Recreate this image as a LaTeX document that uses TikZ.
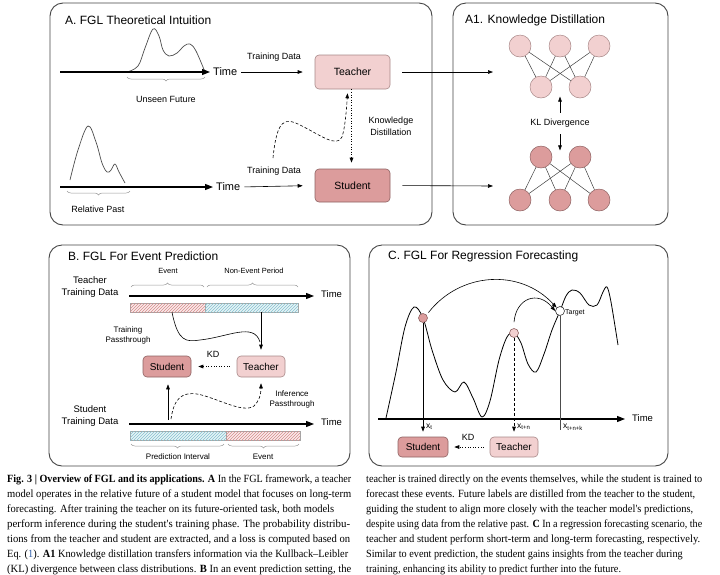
\documentclass[tikz,border=0pt]{standalone}
\usepackage{fontspec}
\usepackage{graphicx}
\setmainfont{Liberation Sans}
\newfontfamily\capfont{Liberation Serif}
\usetikzlibrary{arrows.meta,decorations.pathreplacing,patterns,calc}
\definecolor{tfill}{HTML}{F2D0D0}
\definecolor{sfill}{HTML}{DC9C9C}
\definecolor{tbord}{HTML}{A88888}
\definecolor{sbord}{HTML}{8E6262}
\definecolor{panelc}{HTML}{444444}
\definecolor{rbg}{HTML}{FBEAEA}
\definecolor{rln}{HTML}{D48C8C}
\definecolor{bbg}{HTML}{E6F4F7}
\definecolor{bln}{HTML}{86C2CF}
\definecolor{linkblue}{HTML}{2F5DA8}
\newcommand\capline[2]{\resizebox{#1pt}{\height}{#2}}
\begin{document}
\begin{tikzpicture}[x=1pt,y=-1pt,
  panel/.style={draw=panelc,line width=0.9pt,rounded corners=13pt},
  ttl/.style={anchor=west,font=\fontsize{12}{14}\selectfont,inner sep=0pt},
  lbl/.style={font=\fontsize{9}{11}\selectfont,align=center,inner sep=0pt},
  slbl/.style={font=\fontsize{8}{10}\selectfont,align=center,inner sep=0pt},
  timel/.style={anchor=west,font=\fontsize{11}{13}\selectfont,inner sep=0pt},
  teacherbox/.style={draw=tbord,fill=tfill,rounded corners=4pt,line width=0.6pt,font=\fontsize{10.5}{12}\selectfont},
  studentbox/.style={draw=sbord,fill=sfill,rounded corners=4pt,line width=0.6pt,font=\fontsize{10.5}{12}\selectfont},
  arr/.style={-{Triangle[length=5pt,width=3.6pt]},line width=0.6pt},
  axis/.style={-{Triangle[length=8pt,width=6pt]},line width=1.3pt,shorten >=3pt},
  brc/.style={draw=gray!80,line width=0.5pt,decorate,decoration={brace,amplitude=4pt}},
  brcm/.style={draw=gray!80,line width=0.5pt,decorate,decoration={brace,amplitude=4pt,mirror}},
  sig/.style={draw=black!70,line width=0.7pt},
  nl/.style={circle,minimum size=22pt,inner sep=0pt,draw=tbord,fill=tfill,line width=0.5pt},
  nd/.style={circle,minimum size=22pt,inner sep=0pt,draw=sbord,fill=sfill,line width=0.5pt},
  hred/.style={draw=gray!70,line width=0.4pt,fill=rbg,postaction={pattern=north east lines,pattern color=rln},inner sep=0pt,minimum height=9pt},
  hblue/.style={draw=gray!70,line width=0.4pt,fill=bbg,postaction={pattern=north east lines,pattern color=bln},inner sep=0pt,minimum height=9pt},
  capt/.style={anchor=north west,align=left,inner sep=0pt,font=\capfont\fontsize{11}{15}\selectfont}
]
\useasboundingbox (0,0) rectangle (720,574);

% ---------- panels
\draw[panel] (50,3) rectangle (432,225);
\draw[panel] (453,3) rectangle (668,225);
\draw[panel] (49,245) rectangle (350,466);
\draw[panel] (369,245) rectangle (668,466);

\node[ttl] (ta) at (65,20) {A. FGL Theoretical Intuition};
\node[ttl] (ta1) at (465,20) {A1. Knowledge Distillation};
\node[ttl] (tb) at (68,256) {B. FGL For Event Prediction};
\node[ttl] (tc) at (388,256) {C. FGL For Regression Forecasting};

% ---------- panel A
\draw[sig] plot[smooth,tension=0.6] coordinates {(127,72) (138,66) (145,48) (153,29) (159,36) (163,50) (169,56) (177,53) (184,46) (190,44) (196,51) (205,72)};
\coordinate (a1s) at (60,72);
\node[timel] (time1) at (213,72) {Time};
\draw[axis] (a1s) -- (time1.west);
\draw[brcm] (127,77) -- (205,77);
\node[lbl] (uf) at (166,99) {Unseen Future};

\draw[sig] plot[smooth,tension=0.6] coordinates {(70,180) (78,150) (88,126) (96,142) (102,163) (107,172) (111,170) (115,164) (119,172) (125,183)};
\coordinate (a2s) at (60,187);
\node[timel] (time2) at (216,187) {Time};
\draw[axis] (a2s) -- (time2.west);
\draw[brcm] (67,191) -- (130,191);
\node[lbl] (rp) at (98,209) {Relative Past};

\node[teacherbox,minimum width=75pt,minimum height=34pt] (teachA) at (352.5,72) {Teacher};
\node[studentbox,minimum width=75pt,minimum height=33pt] (studA) at (352.5,185.5) {Student};
\node[lbl] (td1) at (274,57) {Training Data};
\node[lbl] (td2) at (274,171) {Training Data};
\draw[arr,shorten <=4pt,shorten >=12pt] (time1.east) -- (teachA.west);
\draw[arr,shorten <=4pt,shorten >=12pt] (time2.east) -- (studA.west);
\node[lbl] (kdl) at (391,126) {Knowledge\\[1pt]Distillation};
\coordinate (dstart) at (273,158);
\draw[arr,dashed,dash pattern=on 3pt off 2pt] (dstart) .. controls (277,118) and (285,117) .. (302,126) .. controls (320,135) and (337,148) .. (342,137) .. controls (345,128) and (346.5,110) .. ($(teachA.south)+(-5,4)$);
\draw[arr,dotted,line width=0.8pt] ($(teachA.south)+(-1,0)$) -- ($(studA.north)+(-1,-6)$);
\coordinate (tnet) at (493,72);
\coordinate (snet) at (493,186);
\draw[arr,shorten <=12pt] (teachA.east) -- (tnet);
\draw[arr,shorten <=12pt] (studA.east) -- (snet);

% ---------- panel A1
\node[nl] (t1) at (520,46) {};
\node[nl] (t2) at (560,46) {};
\node[nl] (t3) at (599,46) {};
\node[nl] (t4) at (541,87) {};
\node[nl] (t5) at (580,87) {};
\foreach \a in {t1,t2,t3}{\foreach \b in {t4,t5}{\draw[line width=0.5pt,black!75] (\a) -- (\b);}}
\node[nd] (s1) at (541,157) {};
\node[nd] (s2) at (580,157) {};
\node[nd] (s3) at (520,200) {};
\node[nd] (s4) at (560,200) {};
\node[nd] (s5) at (599,200) {};
\foreach \a in {s1,s2}{\foreach \b in {s3,s4,s5}{\draw[line width=0.5pt,black!75] (\a) -- (\b);}}
\node[lbl] (kl) at (560,123) {KL Divergence};
\draw[arr,line width=0.5pt] ($(kl.north)+(0,-6)$) -- ($(kl.north)+(0,-22)$);
\draw[arr,line width=0.5pt] ($(kl.south)+(0,7)$) -- ($(kl.south)+(0,23)$);

% ---------- panel B
\node[lbl,font=\fontsize{9.5}{12}\selectfont] (ttd) at (90,287) {Teacher\\Training Data};
\node[lbl,font=\fontsize{9.5}{12}\selectfont] (std) at (90,416) {Student\\Training Data};
\coordinate (b1s) at (129,296);
\node[timel,font=\fontsize{9.5}{11}\selectfont] (time3) at (321,294) {Time};
\draw[axis,line width=1.1pt,shorten >=0pt] (b1s) -- ($(time3.west)+(-7,2)$);
\draw[brc] (131,287) -- (204,287);
\draw[brc] (207,287) -- (298,287);
\node[slbl,font=\fontsize{7.5}{9}\selectfont] (ev1) at (168,271) {Event};
\node[slbl,font=\fontsize{7.5}{9}\selectfont] (nev) at (254,271) {Non-Event Period};
\node[hred,minimum width=75pt] (rb1) at (167.5,307.5) {};
\node[hblue,minimum width=93pt] (bb1) at (251.5,307.5) {};

\node[slbl] (tpl) at (128,335) {Training\\Passthrough};
\node[studentbox,minimum width=48pt,minimum height=21pt,font=\fontsize{10}{12}\selectfont] (studB) at (167,366.5) {Student};
\node[teacherbox,minimum width=48pt,minimum height=21pt,font=\fontsize{10}{12}\selectfont] (teachB) at (261,366.5) {Teacher};
\draw[arr] (bb1.south -| teachB.north) -- ($(teachB.north)+(0,-6)$);
\draw[line width=0.6pt] (rb1.south) ++(4.5,0) .. controls (178,342) and (186,342) .. (200,340) .. controls (228,337) and (254,322) .. (260,342);
\node[slbl,font=\fontsize{9}{11}\selectfont] (kdb) at (213,354) {KD};
\draw[arr,dotted,line width=0.7pt,shorten <=7pt,shorten >=7pt] (teachB.west) -- (studB.east);
\coordinate (b2s) at (129,424);
\node[timel,font=\fontsize{9.5}{11}\selectfont] (time4) at (321,422) {Time};
\draw[axis,line width=1.1pt,shorten >=0pt] (b2s) -- ($(time4.west)+(-7,2)$);
\coordinate (sup) at (168,420);
\draw[arr] (sup) -- ($(studB.south)+(1,7)$);
\draw[arr,dashed,dash pattern=on 3pt off 2pt] (171,419) .. controls (174,398) and (182,392) .. (197,394) .. controls (215,397) and (243,414) .. (254,406) .. controls (259,401) and (261,395) .. ($(teachB.south)+(0,6)$);
\node[slbl] (ipl) at (292,399) {Inference\\Passthrough};
\node[hblue,minimum width=96pt] (bb2) at (178,436) {};
\node[hred,minimum width=74pt] (rb2) at (263,436) {};
\draw[brcm] (131,444) -- (224,444);
\draw[brcm] (228,444) -- (299,444);
\node[slbl] (pil) at (178,457) {Prediction Interval};
\node[slbl] (ev2) at (263,457) {Event};

% ---------- panel C
\coordinate (c1s) at (378,419);
\node[timel,font=\fontsize{9.5}{11}\selectfont] (time5) at (632,418) {Time};
\draw[axis,line width=1.1pt,shorten >=0pt] (c1s) -- ($(time5.west)+(-7,1)$);
\draw[line width=0.8pt] plot[smooth,tension=0.55] coordinates {(386,418) (396,372) (405,327) (414,307) (423,318) (432,350) (443,380) (455,392) (464,382) (473,398) (482,417) (490,401) (499,360) (507,337) (514,333) (521,343) (528,364) (536,372) (544,354) (552,330) (560,311) (566,296) (572,290) (580,293) (589,305) (597,305) (603,292) (607,287) (611,302) (618,345)};
\node[circle,draw=sbord,fill=sfill,minimum size=9pt,inner sep=0pt,line width=0.6pt] (scp) at (423,318) {};
\node[circle,draw=sbord,fill=tfill,minimum size=9pt,inner sep=0pt,line width=0.6pt] (tcp) at (514,333) {};
\node[circle,draw=black!80,fill=white,minimum size=9pt,inner sep=0pt,line width=0.6pt] (tgp) at (560,311) {};
\node[anchor=west,inner sep=0pt,font=\fontsize{7}{8}\selectfont] (tgl) at (565,313) {Target};
\draw[arr] ($(scp.north east)+(2,-2)$) .. controls (460,272) and (520,268) .. (tgp.north west);
\draw[arr] ($(tcp.north)+(0,-6)$) .. controls (516,298) and (538,290) .. (tgp.west);
\node[studentbox,minimum width=50pt,minimum height=20pt,font=\fontsize{10}{12}\selectfont] (studC) at (423,447) {Student};
\node[teacherbox,minimum width=48pt,minimum height=20pt,font=\fontsize{10}{12}\selectfont] (teachC) at (514,447) {Teacher};
\draw[arr,line width=0.7pt] (scp.south) -- ($(studC.north)+(0,-5)$);
\draw[arr,dashed,dash pattern=on 3pt off 2pt,line width=0.7pt] (tcp.south) -- ($(teachC.north)+(0,-5)$);
\coordinate (tgb) at (560,430);
\draw[line width=0.5pt,black!70] (tgp.south) -- (tgb);
\node[anchor=west,inner sep=0pt,font=\fontsize{8.5}{9}\selectfont] (xt) at (426,427) {x\textsubscript{t}};
\node[anchor=west,inner sep=0pt,font=\fontsize{8.5}{9}\selectfont] (xtn) at (517,427) {x\textsubscript{t+n}};
\node[anchor=west,inner sep=0pt,font=\fontsize{8.5}{9}\selectfont] (xtnk) at (563,427) {x\textsubscript{t+n+k}};
\node[slbl,font=\fontsize{9}{11}\selectfont] (kdc) at (468,437) {KD};
\draw[arr,dotted,line width=0.7pt,shorten <=6pt,shorten >=6pt] (teachC.west) -- (studC.east);

% ---------- caption
\node[capt] (capl) at (7,475) {\capline{344}{\textbf{Fig. 3 | Overview of FGL and its applications. A} In the FGL framework, a teacher}\\
\capline{344}{model operates in the relative future of a student model that focuses on long-term}\\
\capline{327}{forecasting. After training the teacher on its future-oriented task, both models}\\
\capline{343}{perform inference during the student's training phase. The probability distribu-}\\
\capline{343}{tions from the teacher and student are extracted, and a loss is computed based on}\\
\capline{341}{Eq. (\textcolor{linkblue}{1}). \textbf{A1} Knowledge distillation transfers information via the Kullback–Leibler}\\
\capline{344}{(KL) divergence between class distributions. \textbf{B} In an event prediction setting, the}};
\node[capt] (capr) at (366,475) {\capline{336}{teacher is trained directly on the events themselves, while the student is trained to}\\
\capline{329}{forecast these events. Future labels are distilled from the teacher to the student,}\\
\capline{327}{guiding the student to align more closely with the teacher model's predictions,}\\
\capline{336}{despite using data from the relative past. \textbf{C} In a regression forecasting scenario, the}\\
\capline{334}{teacher and student perform short-term and long-term forecasting, respectively.}\\
\scalebox{0.93}[1]{Similar to event prediction, the student gains insights from the teacher during}\\
\scalebox{0.93}[1]{training, enhancing its ability to predict further into the future.}};
\end{tikzpicture}
\end{document}
